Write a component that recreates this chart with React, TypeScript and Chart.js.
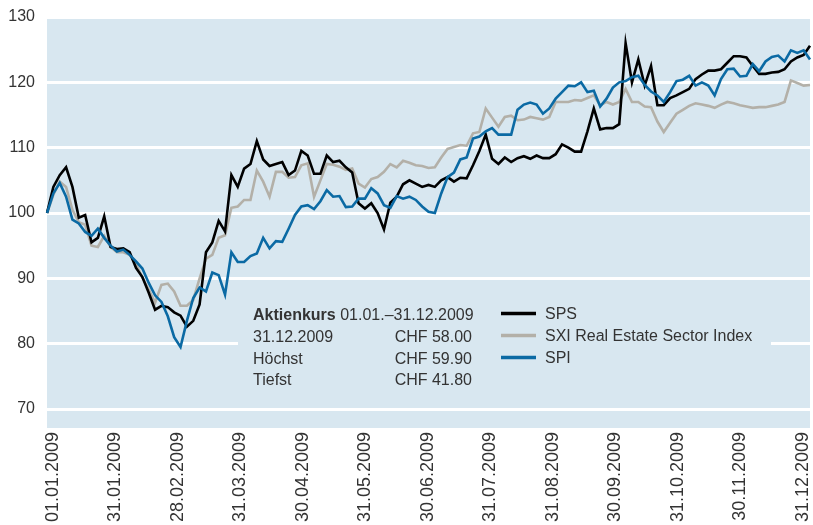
import React, { useEffect, useRef } from 'react';
import { Chart, registerables } from 'chart.js';

Chart.register(...registerables);

// ---- Data ----
const monthLabels = [
  '01.01.2009', '31.01.2009', '28.02.2009', '31.03.2009', '30.04.2009', '31.05.2009',
  '30.06.2009', '31.07.2009', '31.08.2009', '30.09.2009', '31.10.2009', '30.11.2009', '31.12.2009',
];
const yTicks = [70, 80, 90, 100, 110, 120, 130];

const sps = [
  100, 104, 105.8, 107, 104, 99.3, 99.7, 95.5, 96.2, 99.5,
  94.8, 94.5, 94.6, 94, 91.6, 90.2, 87.8, 85.2, 85.8, 85.6,
  84.8, 84.3, 82.6, 83.5, 86, 94, 95.5, 98.8, 97.2, 105.8,
  104, 106.8, 107.5, 111, 108.2, 107.2, 107.5, 107.8, 105.8, 106.5,
  109.5, 108.8, 106, 106, 108.8, 107.8, 108, 107, 106.2, 101.5,
  100.7, 101.5, 100, 97.5, 101.6, 102.5, 104.4, 105, 104.5, 104,
  104.3, 104, 105, 105.5, 104.8, 105.4, 105.3, 107.3, 109.5, 112,
  108.3, 107.5, 108.5, 107.8, 108.4, 108.7, 108.3, 108.8, 108.4, 108.4,
  109, 110.5, 110, 109.4, 109.4, 112.5, 116, 112.8, 113, 113,
  113.6, 126, 120, 123.5, 119.5, 122.5, 116.5, 116.5, 117.6, 118,
  118.5, 119, 120.5, 121.2, 121.8, 121.8, 122, 123, 124, 124,
  123.8, 122.5, 121.3, 121.3, 121.5, 121.6, 122, 123.2, 123.8, 124.2,
  125.6,
];

const sxi = [
  100, 102.8, 104.8, 104, 100.5, 98.6, 98.2, 95, 94.8, 96.5,
  94.8, 94, 94, 93.6, 92.2, 90.1, 88.3, 86.3, 89, 89.2,
  88, 85.8, 85.8, 86.7, 90, 93, 93.6, 96.2, 96.6, 100.8,
  101, 102, 102, 106.5, 104.8, 102.5, 106.3, 106.3, 105.4, 105.5,
  107.3, 107.6, 102.5, 105, 107.5, 107.4, 107.1, 106.6, 106.8, 104.5,
  103.9, 105.2, 105.5, 106.3, 107.5, 107, 108, 107.7, 107.3, 107.2,
  106.9, 107, 108.5, 109.8, 110.1, 110.4, 110.3, 112.2, 112.4, 116,
  114.6, 113.2, 114.7, 114.9, 114.2, 114.3, 114.7, 114.5, 114.3, 114.7,
  117, 117, 117, 117.3, 117.2, 117.6, 118, 116.5, 117, 116.6,
  117, 119, 117, 117, 116.3, 116.2, 114, 112.4, 113.8, 115.2,
  115.8, 116.4, 116.8, 116.6, 116.4, 116.1, 116.6, 117, 116.8, 116.5,
  116.3, 116.1, 116.2, 116.2, 116.4, 116.6, 117, 120.3, 119.9, 119.5,
  119.6,
];

const spi = [
  100, 103, 104.6, 102.5, 99, 98.4, 97.1, 96.5, 97.6, 96.2,
  95, 94.1, 94.4, 93.6, 92.6, 91.5, 89.3, 87.4, 86.4, 84.2,
  81, 79.5, 83.5, 87, 88.6, 88, 90.9, 90.5, 87.5, 94,
  92.5, 92.5, 93.4, 93.8, 96.2, 94.6, 95.7, 95.6, 97.6, 99.7,
  101, 101.2, 100.6, 101.8, 103.5, 102.5, 102.6, 100.9, 101, 102.2,
  102.2, 103.8, 103, 101.2, 100.8, 102.6, 102.2, 102.5, 102, 101,
  100.2, 100, 103, 105.5, 106.2, 108.2, 108.5, 111.4, 111.7, 112.5,
  113, 112, 112, 112, 115.8, 116.6, 116.9, 116.6, 115.2, 116,
  117.5, 118.5, 119.5, 119.4, 120, 118.5, 118.7, 116.3, 117.5, 119.2,
  120, 120.2, 120.8, 121, 119.6, 118.6, 118, 117, 118.5, 120.2,
  120.4, 121, 119.5, 120, 119.5, 118, 120.5, 122, 122.1, 120.9,
  121, 122.8, 121.7, 123.2, 123.9, 124.1, 123.2, 124.9, 124.5, 124.9,
  123.5,
];

const seriesNames = ['SPS', 'SXI Real Estate Sector Index', 'SPI'];
const seriesColors = ['#000000', '#b3b0a8', '#0b6aa4'];
const seriesOrder = [1, 2, 0];

const infoTitleBold = 'Aktienkurs';
const infoTitleRest = ' 01.01.–31.12.2009';
const infoLabels = ['31.12.2009', 'Höchst', 'Tiefst'];
const infoValues = ['CHF 58.00', 'CHF 59.90', 'CHF 41.80'];

// ---- Style ----
const FONT = '"Liberation Sans", Arial, sans-serif';
const TEXT = '#333333';
const PLOT_BG = '#d8e7f0';

const bgPlugin = {
  id: 'plotBg',
  beforeDraw(chart: any) {
    const { ctx, chartArea: a } = chart;
    ctx.save();
    ctx.fillStyle = PLOT_BG;
    ctx.fillRect(a.left, a.top, a.right - a.left, a.bottom - a.top);
    ctx.restore();
  },
};

const infoPlugin = {
  id: 'infoBox',
  beforeDatasetsDraw(chart: any) {
    const { ctx, chartArea: a } = chart;
    ctx.save();
    ctx.fillStyle = PLOT_BG;
    ctx.fillRect(a.left + 191, 290, 533, 110);
    ctx.restore();
  },
  afterDatasetsDraw(chart: any) {
    const { ctx, chartArea: a } = chart;
    const tx = a.left + 206;
    const vx = a.left + 425;
    const rowY = [316, 338, 359.5, 381];
    ctx.save();
    ctx.fillStyle = TEXT;
    ctx.textBaseline = 'middle';
    ctx.textAlign = 'left';
    ctx.font = `bold 16px ${FONT}`;
    ctx.fillText(infoTitleBold, tx, rowY[0]);
    const bw = ctx.measureText(infoTitleBold).width;
    ctx.font = `16px ${FONT}`;
    ctx.fillText(infoTitleRest, tx + bw, rowY[0]);
    infoLabels.forEach((l, i) => {
      ctx.textAlign = 'left';
      ctx.fillText(l, tx, rowY[i + 1]);
      ctx.textAlign = 'right';
      ctx.fillText(infoValues[i], vx, rowY[i + 1]);
    });
    // legend
    const lx = a.left + 454;
    const legY = [313.5, 335.5, 357.5];
    chart.data.datasets.forEach((ds: any, i: number) => {
      ctx.strokeStyle = ds.borderColor;
      ctx.lineWidth = 3.5;
      ctx.lineCap = 'butt';
      ctx.beginPath();
      ctx.moveTo(lx, legY[i]);
      ctx.lineTo(lx + 35, legY[i]);
      ctx.stroke();
      ctx.fillStyle = TEXT;
      ctx.textAlign = 'left';
      ctx.fillText(ds.label, lx + 44, legY[i] + 1);
    });
    ctx.restore();
  },
};

export default function App() {
  const canvasRef = useRef<HTMLCanvasElement | null>(null);

  useEffect(() => {
    if (!canvasRef.current) return;
    const seriesData = [sps, sxi, spi];
    const chart = new Chart(canvasRef.current, {
      type: 'line',
      data: {
        labels: sps.map((_, i) => String(i)),
        datasets: seriesNames.map((name, i) => ({
          label: name,
          data: seriesData[i],
          borderColor: seriesColors[i],
          backgroundColor: seriesColors[i],
          borderWidth: 2.6,
          pointRadius: 0,
          tension: 0,
          fill: false,
          order: seriesOrder[i],
          xAxisID: 'x',
          yAxisID: 'y',
        })),
      },
      options: {
        animation: false,
        responsive: true,
        maintainAspectRatio: false,
        layout: { padding: { top: 17, right: 3, left: 0, bottom: 0 } },
        plugins: {
          legend: { display: false },
          tooltip: { enabled: false },
        },
        scales: {
          x: { type: 'category', display: false },
          xl: {
            type: 'linear',
            position: 'bottom',
            min: -0.096,
            max: 12.112,
            afterBuildTicks: (s: any) => {
              s.ticks = monthLabels.map((_, i) => ({ value: i }));
            },
            afterFit: (s: any) => {
              s.height = 97;
              s.paddingLeft = 0;
              s.paddingRight = 0;
            },
            grid: { display: false, drawTicks: false },
            border: { display: false },
            ticks: {
              autoSkip: false,
              maxRotation: 90,
              minRotation: 90,
              padding: 4,
              color: TEXT,
              font: { family: FONT, size: 18 },
              callback: (v: any) => monthLabels[v] ?? '',
            },
          },
          y: {
            type: 'linear',
            min: 67.1,
            max: 130,
            afterBuildTicks: (s: any) => {
              s.ticks = yTicks.map((v) => ({ value: v }));
            },
            afterFit: (s: any) => {
              s.width = 47;
              s.paddingTop = 0;
              s.paddingBottom = 0;
            },
            grid: { color: '#ffffff', lineWidth: 3, drawTicks: false },
            border: { display: false },
            ticks: {
              padding: 12,
              color: TEXT,
              font: { family: FONT, size: 16 },
            },
          },
        },
      },
      plugins: [bgPlugin, infoPlugin],
    });
    return () => chart.destroy();
  }, []);

  return (
    <div style={{ position: 'fixed', left: 0, top: 0, width: 813, height: 525, background: '#fff' }}>
      <canvas ref={canvasRef} />
    </div>
  );
}
